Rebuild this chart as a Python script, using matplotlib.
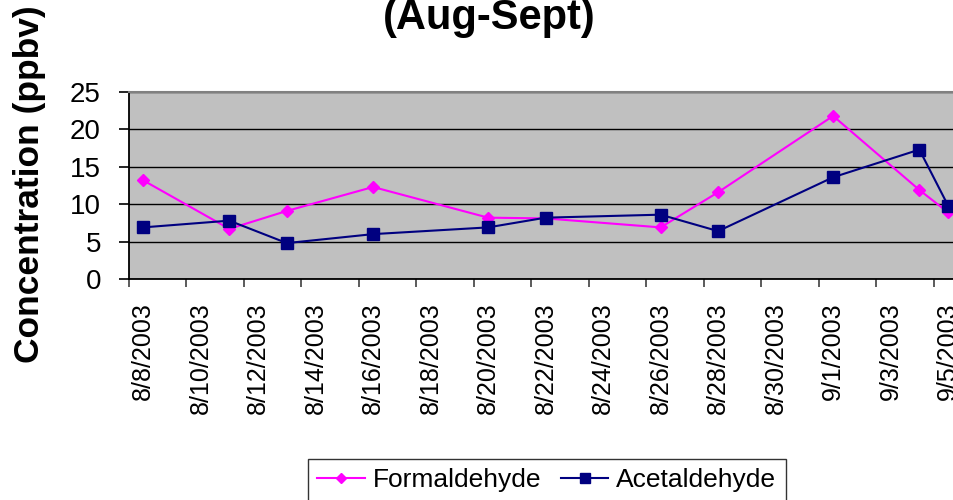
import matplotlib
matplotlib.use("Agg")
import matplotlib.pyplot as plt
import matplotlib.dates as mdates
from datetime import datetime

# ---- data ----
form_dates = ["2003-08-08", "2003-08-11", "2003-08-13", "2003-08-16", "2003-08-20",
              "2003-08-22", "2003-08-26", "2003-08-28", "2003-09-01", "2003-09-04", "2003-09-05"]
formaldehyde = [13.2, 6.7, 9.1, 12.3, 8.2, 8.1, 6.9, 11.6, 21.8, 11.9, 8.9]
acetaldehyde = [6.9, 7.8, 4.8, 6.0, 6.9, 8.2, 8.6, 6.4, 13.6, 17.3, 9.8]
tick_labels = ["8/8/2003", "8/10/2003", "8/12/2003", "8/14/2003", "8/16/2003",
               "8/18/2003", "8/20/2003", "8/22/2003", "8/24/2003", "8/26/2003",
               "8/28/2003", "8/30/2003", "9/1/2003", "9/3/2003", "9/5/2003"]
y_ticks = [0, 5, 10, 15, 20, 25]
title = "(Aug-Sept)"
ylabel = "Concentration (ppbv)"

plt.rcParams['font.family'] = ['Liberation Sans', 'DejaVu Sans']

W, H = 954, 500
fig = plt.figure(figsize=(W / 100, H / 100), dpi=100)

def fx(px):
    return px / W

def fy(py):
    return 1 - py / H

left, right, top, bottom = 128.7, 962.5, 92, 279
ax = fig.add_axes([fx(left), fy(bottom), fx(right - left), (bottom - top) / H])
ax.set_facecolor('#C0C0C0')

dates = [mdates.date2num(datetime.strptime(d, "%Y-%m-%d")) for d in form_dates]
start = mdates.date2num(datetime(2003, 8, 8))

ax.plot(dates, formaldehyde, color='#FF00FF', lw=1.5, marker='D', ms=6.2,
        mec='#FF00FF', mfc='#FF00FF', label='Formaldehyde', zorder=3)
ax.plot(dates, acetaldehyde, color='#000080', lw=1.5, marker='s', ms=8.2,
        mec='#000080', mfc='#000080', label='Acetaldehyde', zorder=4)

ax.set_xlim(start - 0.5, start + 28.5)
ax.set_ylim(0, 25)
ax.set_yticks(y_ticks)
ax.yaxis.grid(True, color='black', lw=1.0)
ax.set_axisbelow(True)

label_pos = [start + 2 * i for i in range(len(tick_labels))]
bound_pos = [start - 0.5 + 2 * i for i in range(len(tick_labels))]
ax.set_xticks(bound_pos)
ax.set_xticklabels([])
ax.set_xticks(label_pos, minor=True)
ax.set_xticklabels(tick_labels, minor=True, rotation=90, fontsize=18, va='top', ha='center')
ax.tick_params(axis='x', which='major', length=5.8, width=1.2, color='#404040', direction='out')
ax.tick_params(axis='x', which='minor', length=0, pad=16.5)
ax.tick_params(axis='y', length=7, width=1.2, color='black', direction='out', pad=13, labelsize=20)

for s in ['left', 'bottom']:
    ax.spines[s].set_color('black')
    ax.spines[s].set_linewidth(1.3)
ax.spines['top'].set_color('#808080')
ax.spines['top'].set_linewidth(1.5)
ax.spines['right'].set_visible(False)

fig.text(fx(489), fy(38), title, ha='center', va='bottom', fontsize=30, fontweight='bold')
fig.text(fx(30), fy(184.5), ylabel, ha='center', va='center', rotation=90,
         fontsize=25.5, fontweight='bold')

leg = ax.legend(loc='upper left', bbox_to_anchor=(fx(308), fy(459)),
                bbox_transform=fig.transFigure, ncol=2, fontsize=19,
                frameon=True, fancybox=False, borderaxespad=0, borderpad=0.35,
                handlelength=1.8, handletextpad=0.3, columnspacing=0.75)
leg.get_frame().set_edgecolor('black')
leg.get_frame().set_linewidth(1.0)
for h in leg.legend_handles:
    h.set_markersize(h.get_markersize() * 0.8)

fig.savefig('out.png', dpi=100)
